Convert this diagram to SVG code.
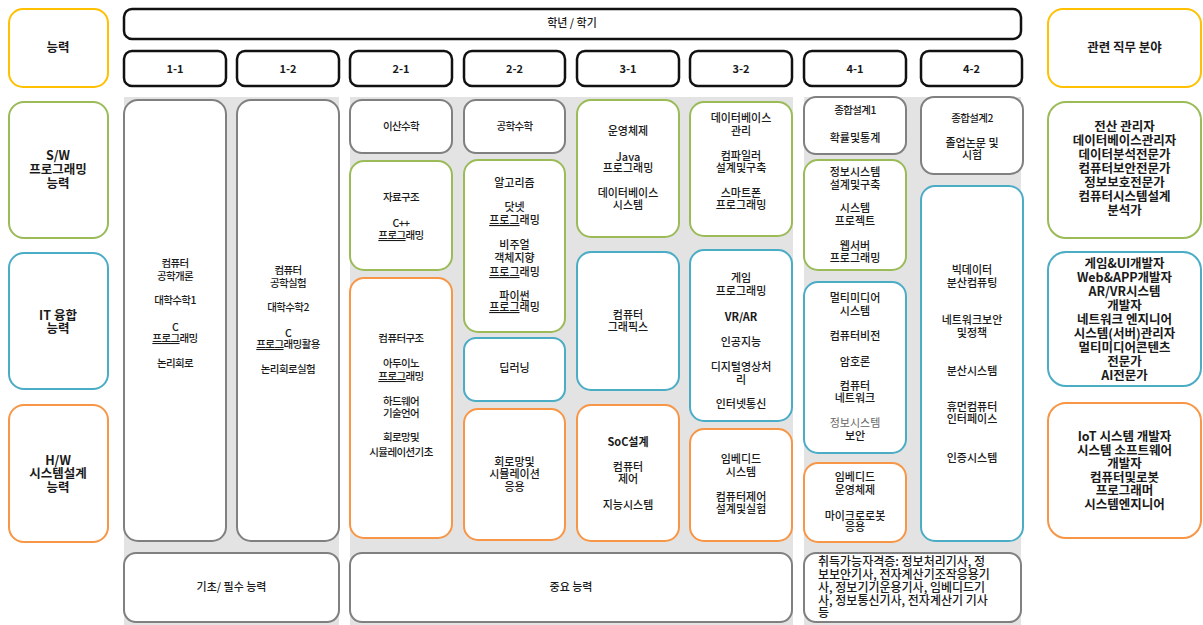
<svg xmlns="http://www.w3.org/2000/svg" width="1203" height="625" viewBox="0 0 1203 625">
<style>
text{font-family:"Noto Sans CJK KR","Noto Sans",sans-serif;fill:#1a1a1a;text-anchor:middle;font-weight:500}
.t{font-size:11px}
.tn{font-size:10.5px;letter-spacing:-0.6px}
.b{font-weight:700}
.lab{font-size:12.5px;font-weight:700}
.job{font-size:12.5px;font-weight:700}
.cert{font-size:12px;text-anchor:start}
.u{text-decoration:underline}
.dim{fill:#666;font-weight:400}
.bg{fill:#e3e3e3}
rect.k{fill:#fff;stroke:#111;stroke-width:2.5}
rect.g{fill:#fff;stroke:#808080;stroke-width:2}
rect.gr{fill:#fff;stroke:#9bbb59;stroke-width:2}
rect.bl{fill:#fff;stroke:#4bacc6;stroke-width:2}
rect.or{fill:#fff;stroke:#f79646;stroke-width:2}
rect.yl{fill:#fff;stroke:#ffc000;stroke-width:2}
</style>
<rect width="1203" height="625" fill="#fff"/>
<g id="backgrounds">
<rect class="bg" x="124" y="97" width="215" height="528"/>
<rect class="bg" x="350" y="97" width="443" height="528"/>
<rect class="bg" x="804" y="97" width="217" height="528"/>
</g>
<g id="ability-head"><rect class="yl" x="9" y="9" width="99" height="78" rx="14"/><text class="lab" x="58" y="52">능력</text></g>
<g id="ability-sw"><rect class="gr" x="9" y="102" width="99" height="136" rx="15"/><text class="lab"><tspan x="58" y="160">S/W</tspan><tspan x="58" y="174">프로그래밍</tspan><tspan x="58" y="188">능력</tspan></text></g>
<g id="ability-it"><rect class="bl" x="9" y="253" width="99" height="136" rx="15"/><text class="lab"><tspan x="58" y="320">IT 융합</tspan><tspan x="58" y="333">능력</tspan></text></g>
<g id="ability-hw"><rect class="or" x="9" y="405" width="99" height="137" rx="15"/><text class="lab"><tspan x="58" y="465">H/W</tspan><tspan x="58" y="478">시스템설계</tspan><tspan x="58" y="492">능력</tspan></text></g>
<g id="header"><rect class="k" x="124" y="9" width="897" height="30" rx="8"/><text class="t" x="572" y="27">학년 / 학기</text></g>
<g id="sem-1-1"><rect class="k" x="124" y="51" width="102" height="35" rx="8"/><text class="t b" x="175" y="73">1-1</text></g>
<g id="sem-1-2"><rect class="k" x="237" y="51" width="102" height="35" rx="8"/><text class="t b" x="288" y="73">1-2</text></g>
<g id="sem-2-1"><rect class="k" x="350" y="51" width="102" height="35" rx="8"/><text class="t b" x="401" y="73">2-1</text></g>
<g id="sem-2-2"><rect class="k" x="464" y="51" width="101" height="35" rx="8"/><text class="t b" x="514.5" y="73">2-2</text></g>
<g id="sem-3-1"><rect class="k" x="577" y="51" width="102" height="35" rx="8"/><text class="t b" x="628" y="73">3-1</text></g>
<g id="sem-3-2"><rect class="k" x="690" y="51" width="102" height="35" rx="8"/><text class="t b" x="741" y="73">3-2</text></g>
<g id="sem-4-1"><rect class="k" x="804" y="51" width="102" height="35" rx="8"/><text class="t b" x="855" y="73">4-1</text></g>
<g id="sem-4-2"><rect class="k" x="921" y="51" width="101" height="35" rx="8"/><text class="t b" x="971.5" y="73">4-2</text></g>
<g id="c11"><rect class="g" x="124" y="100" width="102" height="441" rx="14"/>
<text class="tn"><tspan x="175" y="267">컴퓨터</tspan><tspan x="175" y="280">공학개론</tspan><tspan x="175" y="304">대학수학1</tspan><tspan x="175" y="331">C</tspan><tspan x="175" y="342"><tspan class="u">프로그</tspan>래밍</tspan><tspan x="175" y="367">논리회로</tspan></text></g>
<g id="c12"><rect class="g" x="237" y="100" width="102" height="441" rx="14"/>
<text class="tn"><tspan x="288" y="274">컴퓨터</tspan><tspan x="288" y="287">공학실험</tspan><tspan x="288" y="311">대학수학2</tspan><tspan x="288" y="337">C</tspan><tspan x="288" y="348"><tspan class="u">프로그</tspan>래밍활용</tspan><tspan x="288" y="373">논리회로실험</tspan></text></g>
<g id="c21a"><rect class="g" x="350" y="100" width="102" height="53" rx="12"/><text class="tn" x="401" y="130">이산수학</text></g>
<g id="c21b"><rect class="gr" x="350" y="161" width="102" height="109" rx="14"/><text class="tn"><tspan x="401" y="201">자료구조</tspan><tspan x="401" y="227">C++</tspan><tspan x="401" y="239"><tspan class="u">프로그</tspan>래밍</tspan></text></g>
<g id="c21c"><rect class="or" x="350" y="278" width="102" height="260" rx="14"/>
<text class="tn"><tspan x="401" y="342">컴퓨터구조</tspan><tspan x="401" y="367">아두이노</tspan><tspan x="401" y="380"><tspan class="u">프로그</tspan>래밍</tspan><tspan x="401" y="405">하드웨어</tspan><tspan x="401" y="417">기술언어</tspan><tspan x="401" y="441">회로망및</tspan><tspan x="401" y="456">시뮬레이션기초</tspan></text></g>
<g id="c22a"><rect class="g" x="464" y="100" width="101" height="53" rx="12"/><text class="tn" x="514.5" y="130">공학수학</text></g>
<g id="c22b"><rect class="gr" x="464" y="160" width="101" height="172" rx="14"/>
<text class="t"><tspan x="514.5" y="187">알고리즘</tspan><tspan x="514.5" y="211">닷넷</tspan><tspan x="514.5" y="224"><tspan class="u">프로그</tspan>래밍</tspan><tspan x="514.5" y="249">비주얼</tspan><tspan x="514.5" y="262">객체지향</tspan><tspan x="514.5" y="276"><tspan class="u">프로그</tspan>래밍</tspan><tspan x="514.5" y="300">파이썬</tspan><tspan x="514.5" y="311"><tspan class="u">프로그</tspan>래밍</tspan></text></g>
<g id="c22c"><rect class="bl" x="464" y="338" width="101" height="63" rx="12"/><text class="t" x="514.5" y="372">딥러닝</text></g>
<g id="c22d"><rect class="or" x="464" y="409" width="101" height="131" rx="14"/><text class="t"><tspan x="514.5" y="466">회로망및</tspan><tspan x="514.5" y="478">시뮬레이션</tspan><tspan x="514.5" y="491">응용</tspan></text></g>
<g id="c31a"><rect class="gr" x="577" y="100" width="102" height="137" rx="14"/>
<text class="t"><tspan x="628" y="135">운영체제</tspan><tspan x="628" y="161">Java</tspan><tspan x="628" y="172">프로그래밍</tspan><tspan x="628" y="197">데이터베이스</tspan><tspan x="628" y="209">시스템</tspan></text></g>
<g id="c31b"><rect class="bl" x="577" y="252" width="102" height="138" rx="14"/><text class="t"><tspan x="628" y="319">컴퓨터</tspan><tspan x="628" y="331">그래픽스</tspan></text></g>
<g id="c31c"><rect class="or" x="577" y="405" width="102" height="136" rx="14"/>
<text class="t"><tspan x="628" y="446" class="b">SoC설계</tspan><tspan x="628" y="471">컴퓨터</tspan><tspan x="628" y="483">제어</tspan><tspan x="628" y="509">지능시스템</tspan></text></g>
<g id="c32a"><rect class="gr" x="690" y="102" width="102" height="134" rx="14"/>
<text class="t"><tspan x="741" y="122">데이터베이스</tspan><tspan x="741" y="135">관리</tspan><tspan x="741" y="160">컴파일러</tspan><tspan x="741" y="172">설계및구축</tspan><tspan x="741" y="197">스마트폰</tspan><tspan x="741" y="209">프로그래밍</tspan></text></g>
<g id="c32b"><rect class="bl" x="690" y="250" width="102" height="171" rx="14"/>
<text class="t"><tspan x="741" y="282">게임</tspan><tspan x="741" y="295">프로그래밍</tspan><tspan x="741" y="321" class="b">VR/AR</tspan><tspan x="741" y="346">인공지능</tspan><tspan x="741" y="371">디지털영상처</tspan><tspan x="741" y="384">리</tspan><tspan x="741" y="408">인터넷통신</tspan></text></g>
<g id="c32c"><rect class="or" x="690" y="429" width="102" height="112" rx="14"/>
<text class="t"><tspan x="741" y="463">임베디드</tspan><tspan x="741" y="476">시스템</tspan><tspan x="741" y="501">컴퓨터제어</tspan><tspan x="741" y="513">설계및실험</tspan></text></g>
<g id="c41a"><rect class="g" x="804" y="97" width="102" height="57" rx="12"/><text class="t"><tspan x="855" y="114" class="tn">종합설계1</tspan><tspan x="855" y="142">확률및통계</tspan></text></g>
<g id="c41b"><rect class="gr" x="804" y="160" width="102" height="110" rx="14"/>
<text class="t"><tspan x="855" y="176">정보시스템</tspan><tspan x="855" y="189">설계및구축</tspan><tspan x="855" y="212">시스템</tspan><tspan x="855" y="225">프로젝트</tspan><tspan x="855" y="250">웹서버</tspan><tspan x="855" y="262">프로그래밍</tspan></text></g>
<g id="c41c"><rect class="bl" x="804" y="282" width="102" height="171" rx="14"/>
<text class="t"><tspan x="855" y="302">멀티미디어</tspan><tspan x="855" y="315">시스템</tspan><tspan x="855" y="340">컴퓨터비전</tspan><tspan x="855" y="366">암호론</tspan><tspan x="855" y="390">컴퓨터</tspan><tspan x="855" y="402">네트워크</tspan><tspan x="855" y="427" class="dim">정보시스템</tspan><tspan x="855" y="440">보안</tspan></text></g>
<g id="c41d"><rect class="or" x="804" y="463" width="102" height="79" rx="14"/>
<text class="t"><tspan x="855" y="481">임베디드</tspan><tspan x="855" y="494">운영체제</tspan><tspan x="855" y="520">마이크로로봇</tspan><tspan x="855" y="531">응용</tspan></text></g>
<g id="c42a"><rect class="g" x="921" y="97" width="102" height="77" rx="13"/><text class="t"><tspan x="972" y="122" class="tn">종합설계2</tspan><tspan x="972" y="147">졸업논문 및</tspan><tspan x="972" y="159">시험</tspan></text></g>
<g id="c42b"><rect class="bl" x="921" y="186" width="102" height="355" rx="14"/>
<text class="t"><tspan x="972" y="274">빅데이터</tspan><tspan x="972" y="287">분산컴퓨팅</tspan><tspan x="972" y="324">네트워크보안</tspan><tspan x="972" y="337">및정책</tspan><tspan x="972" y="375">분산시스템</tspan><tspan x="972" y="411">휴먼컴퓨터</tspan><tspan x="972" y="423">인터페이스</tspan><tspan x="972" y="462">인증시스템</tspan></text></g>
<g id="basic"><rect class="g" x="124" y="553" width="215" height="69" rx="12"/><text class="t" x="231.5" y="591">기초/ 필수 능력</text></g>
<g id="important"><rect class="g" x="350" y="553" width="442" height="69" rx="12"/><text class="t" x="571" y="591">중요 능력</text></g>
<g id="cert"><rect class="g" x="804" y="553" width="217" height="69" rx="12"/>
<text class="cert"><tspan x="818" y="566">취득가능자격증:  정보처리기사, 정</tspan><tspan x="818" y="579">보보안기사, 전자계산기조작응용기</tspan><tspan x="818" y="592">사, 정보기기운용기사, 임베디드기</tspan><tspan x="818" y="605">사, 정보통신기사, 전자계산기 기사</tspan><tspan x="818" y="617">등</tspan></text></g>
<g id="job-head"><rect class="yl" x="1048" y="9" width="153" height="78" rx="15"/><text class="lab" x="1124.5" y="52">관련 직무 분야</text></g>
<g id="job-sw"><rect class="gr" x="1048" y="102" width="153" height="136" rx="18"/>
<text class="job"><tspan x="1124.5" y="131">전산 관리자</tspan><tspan x="1124.5" y="145">데이터베이스관리자</tspan><tspan x="1124.5" y="159">데이터분석전문가</tspan><tspan x="1124.5" y="173">컴퓨터보안전문가</tspan><tspan x="1124.5" y="187">정보보호전문가</tspan><tspan x="1124.5" y="201">컴퓨터시스템설계</tspan><tspan x="1124.5" y="215">분석가</tspan></text></g>
<g id="job-it"><rect class="bl" x="1048" y="252" width="153" height="134" rx="18"/>
<text class="job"><tspan x="1124.5" y="268">게임&amp;UI개발자</tspan><tspan x="1124.5" y="282">Web&amp;APP개발자</tspan><tspan x="1124.5" y="296">AR/VR시스템</tspan><tspan x="1124.5" y="310">개발자</tspan><tspan x="1124.5" y="324">네트워크 엔지니어</tspan><tspan x="1124.5" y="338">시스템(서버)관리자</tspan><tspan x="1124.5" y="352">멀티미디어콘텐츠</tspan><tspan x="1124.5" y="366">전문가</tspan><tspan x="1124.5" y="380">AI전문가</tspan></text></g>
<g id="job-hw"><rect class="or" x="1048" y="403" width="153" height="135" rx="18"/>
<text class="job"><tspan x="1124.5" y="441">IoT 시스템 개발자</tspan><tspan x="1124.5" y="454.5">시스템 소프트웨어</tspan><tspan x="1124.5" y="468">개발자</tspan><tspan x="1124.5" y="481.5">컴퓨터및로봇</tspan><tspan x="1124.5" y="495">프로그래머</tspan><tspan x="1124.5" y="508.5">시스템엔지니어</tspan></text></g>
<g id="connectors"></g>
</svg>
